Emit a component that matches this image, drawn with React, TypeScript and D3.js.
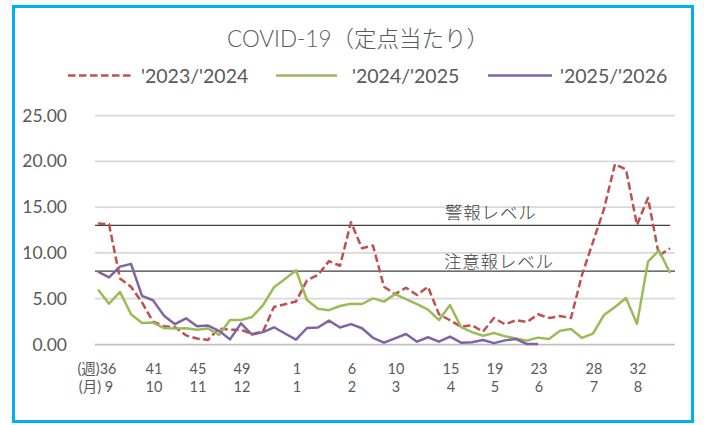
import React from 'react';
import * as d3 from 'd3';

// x categories: ISO weeks from 36 to 35 of the next year (53 slots)
const weeks: number[] = [
  36, 37, 38, 39, 40, 41, 42, 43, 44, 45, 46, 47, 48, 49, 50, 51, 52, 53,
  1, 2, 3, 4, 5, 6, 7, 8, 9, 10, 11, 12, 13, 14, 15, 16, 17, 18, 19, 20,
  21, 22, 23, 24, 25, 26, 27, 28, 29, 30, 31, 32, 33, 34, 35,
];

const tickWeeks: number[] = [36, 41, 45, 49, 1, 6, 10, 15, 19, 23, 28, 32];
const tickMonths: string[] = ['9', '10', '11', '12', '1', '2', '3', '4', '5', '6', '7', '8'];
const yTicks: number[] = [0, 5, 10, 15, 20, 25];

const season2324: number[] = [
  13.2, 13.15, 7.2, 6.3, 4.6, 2.5, 2.0, 1.9, 1.0, 0.65, 0.5, 1.75, 1.6, 1.6, 1.15, 1.4,
  4.1, 4.4, 4.7, 7.0, 7.6, 9.1, 8.6, 13.35, 10.5, 10.8, 6.3, 5.5, 6.2, 5.4, 6.3, 3.3,
  2.65, 1.95, 2.1, 1.4, 2.9, 2.2, 2.65, 2.45, 3.3, 2.9, 3.1, 2.9, 7.6, 11.2, 14.8, 19.7,
  19.1, 13.05, 16.0, 9.7, 10.5,
];

const season2425: number[] = [
  6.0, 4.45, 5.75, 3.3, 2.35, 2.4, 1.8, 1.75, 1.78, 1.6, 1.75, 1.05, 2.67, 2.67, 3.0, 4.3,
  6.25, 7.15, 8.1, 4.86, 3.9, 3.75, 4.2, 4.44, 4.42, 5.04, 4.68, 5.5, 4.95, 4.4, 3.8, 2.67,
  4.31, 1.9, 1.35, 0.95, 1.25, 0.9, 0.65, 0.42, 0.75, 0.6, 1.5, 1.69, 0.72, 1.18, 3.22, 4.1,
  5.08, 2.25, 9.04, 10.27, 7.8,
];

const season2526: number[] = [
  7.95, 7.32, 8.5, 8.8, 5.3, 4.83, 3.15, 2.22, 2.86, 2.0, 2.07, 1.5, 0.56, 2.31, 1.08, 1.35,
  1.88, 1.2, 0.53, 1.8, 1.85, 2.6, 1.86, 2.22, 1.77, 0.73, 0.2, 0.67, 1.15, 0.31, 0.79, 0.31,
  0.85, 0.2, 0.24, 0.49, 0.15, 0.45, 0.6, 0.05, 0.05,
];

const warningLevel = 13;
const cautionLevel = 8;

const seriesNames = ["'2023/'2024", "'2024/'2025", "'2025/'2026"];
const seriesColors = ['#c0504d', '#9bbb59', '#8064a2'];

const FONT = "Lato, 'Noto Sans CJK JP', sans-serif";
const JP = "'Noto Sans CJK JP', sans-serif";

export default function App() {
  const W = 704;
  const H = 425;
  const x = d3.scaleLinear().domain([0, weeks.length - 1]).range([98, 670]);
  const y = d3.scaleLinear().domain([0, 25]).range([344.5, 115.5]);

  const line = d3
    .line<number>()
    .x((_, i) => x(i))
    .y((d) => y(d));

  const series = [season2324, season2425, season2526];

  const tickIdx = tickWeeks.map((w) => weeks.indexOf(w));

  return (
    <svg
      width={W}
      height={H}
      style={{ position: 'absolute', left: 0, top: 0, background: '#fff' }}
    >
      <rect x={0} y={0} width={W} height={H} fill="#fff" />
      <rect x={13.5} y={6.5} width={679} height={415} fill="none" stroke="#00b0f0" strokeWidth={3} />

      {/* title */}
      <text x={358} y={47} textAnchor="middle" fontFamily={FONT} fontWeight={300} fontSize={22.5} fill="#595959">
        COVID-19（定点当たり）
      </text>

      {/* legend */}
      {[
        { x0: 68, x1: 133, tx: 141 },
        { x0: 276, x1: 337, tx: 352 },
        { x0: 488, x1: 552, tx: 560 },
      ].map((l, i) => (
        <g key={i}>
          <line
            x1={l.x0}
            x2={l.x1}
            y1={75.5}
            y2={75.5}
            stroke={seriesColors[i]}
            strokeWidth={2.5}
            strokeDasharray={i === 0 ? '7.5,3.5' : undefined}
          />
          <text x={l.tx} y={82.5} fontFamily={FONT} fontSize={19.5} fill="#595959">
            {seriesNames[i]}
          </text>
        </g>
      ))}

      {/* grid */}
      {yTicks.map((t) => (
        <g key={t}>
          <line
            x1={95}
            x2={675}
            y1={y(t)}
            y2={y(t)}
            stroke={t === 0 ? '#bfbfbf' : '#d9d9d9'}
            strokeWidth={1.75}
          />
          <text
            x={67}
            y={y(t) + 6}
            textAnchor="end"
            fontFamily={FONT}
            fontSize={17.5}
            fill="#595959"
          >
            {t.toFixed(2)}
          </text>
        </g>
      ))}

      {/* threshold lines */}
      <line x1={95} x2={670} y1={y(warningLevel)} y2={y(warningLevel)} stroke="#404040" strokeWidth={1.25} />
      <line x1={95} x2={675} y1={y(cautionLevel)} y2={y(cautionLevel)} stroke="#404040" strokeWidth={1.25} />
      <text x={445} y={219} fontFamily={JP} fontWeight={300} fontSize={17.5} fill="#404040" letterSpacing={0.8}>
        警報レベル
      </text>
      <text x={444} y={268} fontFamily={JP} fontWeight={300} fontSize={17.5} fill="#404040" letterSpacing={0.8}>
        注意報レベル
      </text>

      {/* series */}
      {series.map((s, i) => (
        <path
          key={i}
          d={line(s) || ''}
          fill="none"
          stroke={seriesColors[i]}
          strokeWidth={2.5}
          strokeLinejoin="round"
          strokeDasharray={i === 0 ? '7.5,3.5' : undefined}
        />
      ))}

      {/* x labels */}
      {tickIdx.map((idx, k) => (
        <g key={k}>
          <text
            x={x(idx) + (k === 0 ? -1 : 1)}
            y={374}
            textAnchor="middle"
            fontFamily={FONT}
            fontSize={14.5}
            fill="#595959"
          >
            {k === 0 ? '(週)' + tickWeeks[k] : String(tickWeeks[k])}
          </text>
          <text
            x={x(idx) + (k === 0 ? -2 : 1)}
            y={392}
            textAnchor="middle"
            fontFamily={FONT}
            fontSize={14.5}
            fill="#595959"
          >
            {k === 0 ? '(月) ' + tickMonths[k] : tickMonths[k]}
          </text>
        </g>
      ))}
    </svg>
  );
}
